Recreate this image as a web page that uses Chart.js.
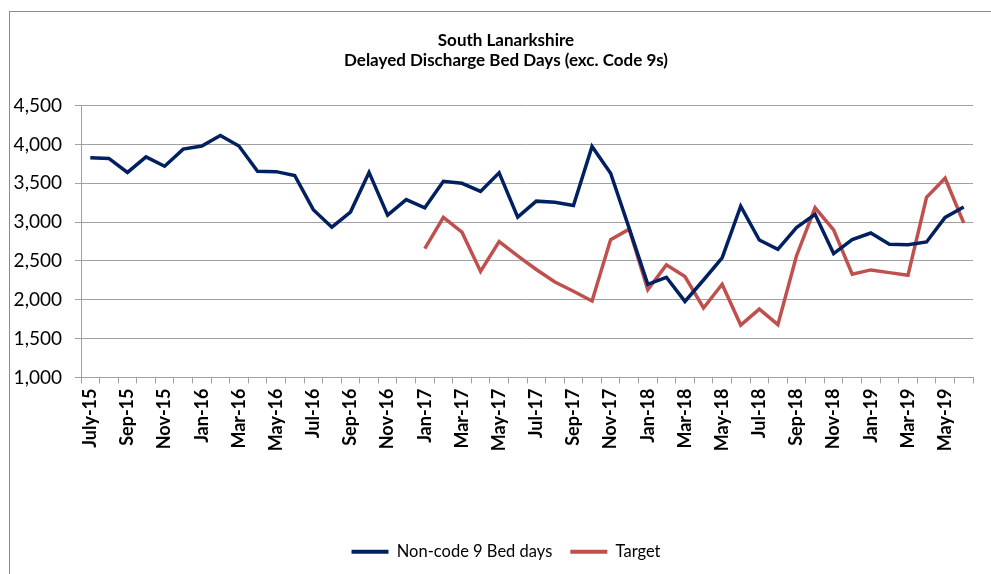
<!DOCTYPE html>
<html>
<head>
<meta charset="utf-8">
<script src="https://cdn.jsdelivr.net/npm/chart.js@4.4.1/dist/chart.umd.min.js"></script>
<style>
  html, body { margin: 0; padding: 0; background: #fff; overflow: hidden; }
  #wrap { position: relative; width: 991px; height: 574px; overflow: hidden; }
  #frame { position: absolute; left: 9px; top: 11px; width: 1200px; height: 800px; border-left: 1px solid #8c8c8c; border-top: 1px solid #8c8c8c; pointer-events: none; }
  canvas { position: absolute; left: 0; top: 0; }
</style>
</head>
<body>
<div id="wrap">
  <canvas id="c" width="1002" height="574"></canvas>
  <div id="frame"></div>
</div>
<script>
const titleLines = ['South Lanarkshire', 'Delayed Discharge Bed Days (exc. Code 9s)'];

const months = [
  'July-15','Aug-15','Sep-15','Oct-15','Nov-15','Dec-15',
  'Jan-16','Feb-16','Mar-16','Apr-16','May-16','Jun-16','Jul-16','Aug-16','Sep-16','Oct-16','Nov-16','Dec-16',
  'Jan-17','Feb-17','Mar-17','Apr-17','May-17','Jun-17','Jul-17','Aug-17','Sep-17','Oct-17','Nov-17','Dec-17',
  'Jan-18','Feb-18','Mar-18','Apr-18','May-18','Jun-18','Jul-18','Aug-18','Sep-18','Oct-18','Nov-18','Dec-18',
  'Jan-19','Feb-19','Mar-19','Apr-19','May-19','Jun-19'
];

const nonCode9BedDays = [
  3830, 3820, 3640, 3840, 3720, 3940,
  3980, 4115, 3980, 3655, 3650, 3600, 3160, 2935, 3130, 3640, 3090, 3290,
  3185, 3525, 3500, 3395, 3635, 3065, 3270, 3255, 3215, 3975, 3630, 2920,
  2200, 2290, 1980, 2255, 2540, 3205, 2770, 2650, 2930, 3100, 2595, 2775,
  2860, 2715, 2710, 2745, 3060, 3195
];

const target = [
  null, null, null, null, null, null,
  null, null, null, null, null, null, null, null, null, null, null, null,
  2660, 3060, 2870, 2365, 2750, 2565, 2390, 2230, 2110, 1985, 2775, 2910,
  2130, 2450, 2300, 1895, 2200, 1675, 1880, 1680, 2565, 3185, 2900, 2330,
  2385, 2350, 2315, 3320, 3565, 2990
];

const yTicks = [1000, 1500, 2000, 2500, 3000, 3500, 4000, 4500];

const NAVY = '#002060';
const RED = '#C0504D';
const GRID = '#a0a0a0';
const FONT = 'Lato, "Liberation Sans", sans-serif';

new Chart(document.getElementById('c'), {
  type: 'line',
  data: {
    labels: months,
    datasets: [
      { label: 'Non-code 9 Bed days', data: nonCode9BedDays, borderColor: NAVY, backgroundColor: NAVY,
        borderWidth: 3.5, pointRadius: 0, tension: 0, fill: false },
      { label: 'Target', data: target, borderColor: RED, backgroundColor: RED,
        borderWidth: 3.5, pointRadius: 0, tension: 0, fill: false, spanGaps: false }
    ]
  },
  options: {
    responsive: false,
    animation: false,
    devicePixelRatio: 1,
    layout: { padding: { left: 10, right: 0, top: 10, bottom: 4 } },
    plugins: {
      tooltip: { enabled: false },
      title: {
        display: true,
        text: titleLines,
        color: '#000',
        font: { family: FONT, size: 17, weight: 'bold', lineHeight: 1.15 },
        padding: { top: 21, bottom: 35.5 }
      },
      legend: {
        position: 'bottom',
        labels: {
          color: '#000',
          font: { family: FONT, size: 16.5 },
          boxWidth: 37,
          boxHeight: 4,
          padding: 18,
          generateLabels(chart) {
            const items = Chart.defaults.plugins.legend.labels.generateLabels(chart);
            items.forEach(i => { i.lineWidth = 0; i.fillStyle = i.strokeStyle; });
            return items;
          }
        }
      }
    },
    scales: {
      x: {
        type: 'category',
        offset: true,
        grid: { display: true, drawOnChartArea: false, drawTicks: true, tickLength: 6, offset: true, color: GRID, lineWidth: 1 },
        border: { display: true, color: GRID, width: 1 },
        ticks: {
          autoSkip: false,
          maxRotation: 90,
          minRotation: 90,
          padding: 5,
          color: '#000',
          font: { family: FONT, size: 18, weight: 'bold' },
          callback(value, index) { return index % 2 === 0 ? months[index] : ''; }
        },
        afterFit(s) { s.height = 148; }
      },
      y: {
        min: yTicks[0],
        max: yTicks[yTicks.length - 1],
        afterBuildTicks(s) { s.ticks = yTicks.map(v => ({ value: v })); },
        grid: { color: GRID, lineWidth: 1, drawTicks: true, tickLength: 6 },
        border: { display: true, color: GRID, width: 1 },
        ticks: {
          padding: 13,
          color: '#000',
          font: { family: FONT, size: 19 },
          callback(v) { return v.toLocaleString('en-US'); }
        },
        afterFit(s) { s.width = 71; }
      },
      yPad: {
        position: 'right',
        min: 0, max: 1,
        grid: { display: false },
        border: { display: false },
        ticks: { display: false },
        afterFit(s) { s.width = 29; }
      }
    }
  }
});
</script>
</body>
</html>
